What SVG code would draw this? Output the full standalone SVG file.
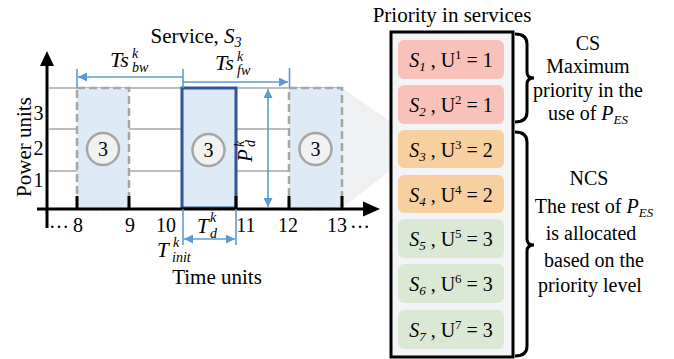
<svg xmlns="http://www.w3.org/2000/svg" width="674" height="359" viewBox="0 0 674 359">
  <style>
    text { font-family: "Liberation Serif", "Times New Roman", serif; fill: #000; }
    .t20 { font-size: 20px; }
    .t21 { font-size: 21px; }
    .it { font-style: italic; }
    .mid { text-anchor: middle; }
    .grid { stroke: #a6a6a6; stroke-width: 1.5; fill: none; }
    .slot { fill: #deebf7; stroke: #a6a6a6; stroke-width: 2.5; stroke-dasharray: 8 4; }
    .slot-active { fill: #deebf7; stroke: #2f5597; stroke-width: 3; }
    .badge { fill: #f2f2f2; stroke: #a6a6a6; stroke-width: 2.5; }
    .dim { stroke: #5b9bd5; stroke-width: 1.6; fill: none; }
    .tick { stroke: #000; stroke-width: 3; }
    .brace { stroke: #000; stroke-width: 3; fill: none; }
    .item { stroke: none; }
    .p1 { fill: #f8c2b9; }
    .p2 { fill: #f8cf9f; }
    .p3 { fill: #dae8d4; }
  </style>
  <defs>
    <marker id="ah" viewBox="0 0 10 10" refX="10" refY="5" markerWidth="10" markerHeight="9" markerUnits="userSpaceOnUse" orient="auto-start-reverse">
      <path d="M0,0 L10,5 L0,10 z" fill="#5b9bd5"/>
    </marker>
  </defs>

  <!-- fan from the S3 slot to the priority list -->
  <polygon points="342,88 391,122 391,170 342,208" fill="#eff0f2"/>

  <!-- chart grid -->
  <g id="grid">
    <line class="grid" x1="49" y1="88" x2="342" y2="88"/>
    <line class="grid" x1="49" y1="129" x2="342" y2="129"/>
    <line class="grid" x1="49" y1="171" x2="342" y2="171"/>
  </g>

  <!-- time slots -->
  <g id="slot-bw">
    <rect class="slot" x="77" y="88" width="52" height="121"/>
    <circle class="badge" cx="103" cy="149" r="16"/>
    <text class="t20 mid" x="103" y="156">3</text>
  </g>
  <g id="slot-current">
    <rect class="slot-active" x="182" y="88" width="54" height="120"/>
    <circle class="badge" cx="208.5" cy="150" r="16"/>
    <text class="t20 mid" x="208.5" y="157">3</text>
  </g>
  <g id="slot-fw">
    <rect class="slot" x="289" y="88" width="53" height="121"/>
    <circle class="badge" cx="315.5" cy="149" r="16"/>
    <text class="t20 mid" x="315.5" y="156">3</text>
  </g>

  <!-- axes -->
  <g id="axes">
    <line x1="47" y1="64" x2="47" y2="228" stroke="#000" stroke-width="3"/>
    <polygon points="47,51 40,66 54,66" fill="#000"/>
    <line x1="37" y1="209" x2="364" y2="209" stroke="#000" stroke-width="3"/>
    <polygon points="380,209 363,201.5 363,216.5" fill="#000"/>
    <line class="tick" x1="77" y1="196" x2="77" y2="210"/>
    <line class="tick" x1="129" y1="196" x2="129" y2="210"/>
    <line class="tick" x1="236" y1="196" x2="236" y2="210"/>
    <line class="tick" x1="289" y1="196" x2="289" y2="210"/>
    <line class="tick" x1="342" y1="196" x2="342" y2="210"/>
    <text class="t20 mid" x="38.5" y="120">3</text>
    <text class="t20 mid" x="38.5" y="155">2</text>
    <text class="t20 mid" x="38.5" y="187">1</text>
    <text class="t20 mid" x="59" y="228">…</text>
    <text class="t20 mid" x="78" y="232">8</text>
    <text class="t20 mid" x="130" y="232">9</text>
    <text class="t20 mid" x="166" y="232">10</text>
    <text class="t20 mid" x="246" y="232">11</text>
    <text class="t20 mid" x="288" y="232">12</text>
    <text class="t20 mid" x="337" y="232">13</text>
    <text class="t20 mid" x="360" y="228">…</text>
    <text class="t21 mid" transform="translate(31,147) rotate(-90)">Power units</text>
    <text class="t21 mid" x="217" y="284">Time units</text>
  </g>

  <!-- dimension arrows -->
  <g id="connectors">
    <line class="dim" x1="77" y1="69" x2="77" y2="88"/>
    <line class="dim" x1="183" y1="69" x2="183" y2="88"/>
    <line class="dim" x1="289.5" y1="68" x2="289.5" y2="88"/>
    <line class="dim" x1="183" y1="77" x2="78" y2="77" marker-end="url(#ah)"/>
    <line class="dim" x1="183" y1="82" x2="288" y2="82" marker-end="url(#ah)"/>
    <line class="dim" x1="268" y1="89" x2="268" y2="207" marker-start="url(#ah)" marker-end="url(#ah)"/>
    <line class="dim" x1="183" y1="209" x2="183" y2="245"/>
    <line class="dim" x1="236" y1="209" x2="236" y2="245"/>
    <line class="dim" x1="184" y1="239" x2="235" y2="239" marker-start="url(#ah)" marker-end="url(#ah)"/>
  </g>

  <!-- dimension labels -->
  <g id="labels">
    <text class="t21 mid" x="196" y="43">Service, <tspan class="it">S</tspan><tspan class="it" font-size="14" dy="4">3</tspan></text>
    <text class="it" font-size="22" x="110" y="67">Ts</text>
    <text class="it" font-size="14" x="132" y="58">k</text>
    <text class="it" font-size="14" x="132" y="72">bw</text>
    <text class="it" font-size="22" x="215" y="70">Ts</text>
    <text class="it" font-size="14" x="237" y="61">k</text>
    <text class="it" font-size="14" x="237" y="75">fw</text>
    <text class="t21 it" x="197" y="233">T</text>
    <text class="it" font-size="14" x="210" y="222">k</text>
    <text class="it" font-size="14" x="210" y="238">d</text>
    <text class="t21 it" x="157" y="257">T</text>
    <text class="it" font-size="14" x="173" y="247">k</text>
    <text class="it" font-size="14" x="172" y="262">init</text>
    <g transform="translate(252,162) rotate(-90)">
      <text class="t21 it" x="0" y="0">P</text>
      <text class="it" font-size="14" x="15" y="-8">k</text>
      <text class="it" font-size="14" x="15" y="3">d</text>
    </g>
  </g>

  <!-- priority list -->
  <g id="priority-list">
    <text class="t21 mid" x="452" y="22">Priority in services</text>
    <rect x="391" y="32" width="122" height="325" fill="#f3f4f6" stroke="#000" stroke-width="3"/>
  </g>
  <g id="s1">
    <rect class="item p1" x="398" y="40" width="106" height="39" rx="6"/>
    <text class="t20 mid" x="451" y="67"><tspan class="it">S</tspan><tspan class="it" font-size="13" dy="4">1</tspan><tspan dy="-4"> , U</tspan><tspan font-size="13" dy="-8">1</tspan><tspan dy="8"> = 1</tspan></text>
  </g>
  <g id="s2">
    <rect class="item p1" x="398" y="85" width="106" height="39" rx="6"/>
    <text class="t20 mid" x="451" y="112"><tspan class="it">S</tspan><tspan class="it" font-size="13" dy="4">2</tspan><tspan dy="-4"> , U</tspan><tspan font-size="13" dy="-8">2</tspan><tspan dy="8"> = 1</tspan></text>
  </g>
  <g id="s3">
    <rect class="item p2" x="398" y="130" width="106" height="38" rx="6"/>
    <text class="t20 mid" x="451" y="157"><tspan class="it">S</tspan><tspan class="it" font-size="13" dy="4">3</tspan><tspan dy="-4"> , U</tspan><tspan font-size="13" dy="-8">3</tspan><tspan dy="8"> = 2</tspan></text>
  </g>
  <g id="s4">
    <rect class="item p2" x="398" y="175" width="106" height="38" rx="6"/>
    <text class="t20 mid" x="451" y="202"><tspan class="it">S</tspan><tspan class="it" font-size="13" dy="4">4</tspan><tspan dy="-4"> , U</tspan><tspan font-size="13" dy="-8">4</tspan><tspan dy="8"> = 2</tspan></text>
  </g>
  <g id="s5">
    <rect class="item p3" x="398" y="219" width="106" height="39" rx="6"/>
    <text class="t20 mid" x="451" y="246"><tspan class="it">S</tspan><tspan class="it" font-size="13" dy="4">5</tspan><tspan dy="-4"> , U</tspan><tspan font-size="13" dy="-8">5</tspan><tspan dy="8"> = 3</tspan></text>
  </g>
  <g id="s6">
    <rect class="item p3" x="398" y="264" width="106" height="39" rx="6"/>
    <text class="t20 mid" x="451" y="291"><tspan class="it">S</tspan><tspan class="it" font-size="13" dy="4">6</tspan><tspan dy="-4"> , U</tspan><tspan font-size="13" dy="-8">6</tspan><tspan dy="8"> = 3</tspan></text>
  </g>
  <g id="s7">
    <rect class="item p3" x="398" y="310" width="106" height="39" rx="6"/>
    <text class="t20 mid" x="451" y="337"><tspan class="it">S</tspan><tspan class="it" font-size="13" dy="4">7</tspan><tspan dy="-4"> , U</tspan><tspan font-size="13" dy="-8">7</tspan><tspan dy="8"> = 3</tspan></text>
  </g>

  <!-- group braces and notes -->
  <g id="cs">
    <path class="brace" d="M515,34 Q527,34 527,44 L527,72 Q527,78 534,78 Q527,78 527,84 L527,112 Q527,122 515,122"/>
    <text class="t20 mid" x="588" y="50">CS</text>
    <text class="t20 mid" x="588" y="73">Maximum</text>
    <text class="t20 mid" x="588" y="97">priority in the</text>
    <text class="t20 mid" x="588" y="120">use of <tspan class="it">P</tspan><tspan class="it" font-size="13" dy="4">ES</tspan></text>
  </g>
  <g id="ncs">
    <path class="brace" d="M515,132 Q527,132 527,142 L527,239 Q527,245 534,245 Q527,245 527,251 L527,346 Q527,356 515,356"/>
    <text class="t20 mid" x="589" y="185">NCS</text>
    <text class="t20 mid" x="594" y="213">The rest of <tspan class="it">P</tspan><tspan class="it" font-size="13" dy="4">ES</tspan></text>
    <text class="t20 mid" x="591" y="240">is allocated</text>
    <text class="t20 mid" x="594" y="267">based on the</text>
    <text class="t20 mid" x="590" y="292">priority level</text>
  </g>
</svg>
